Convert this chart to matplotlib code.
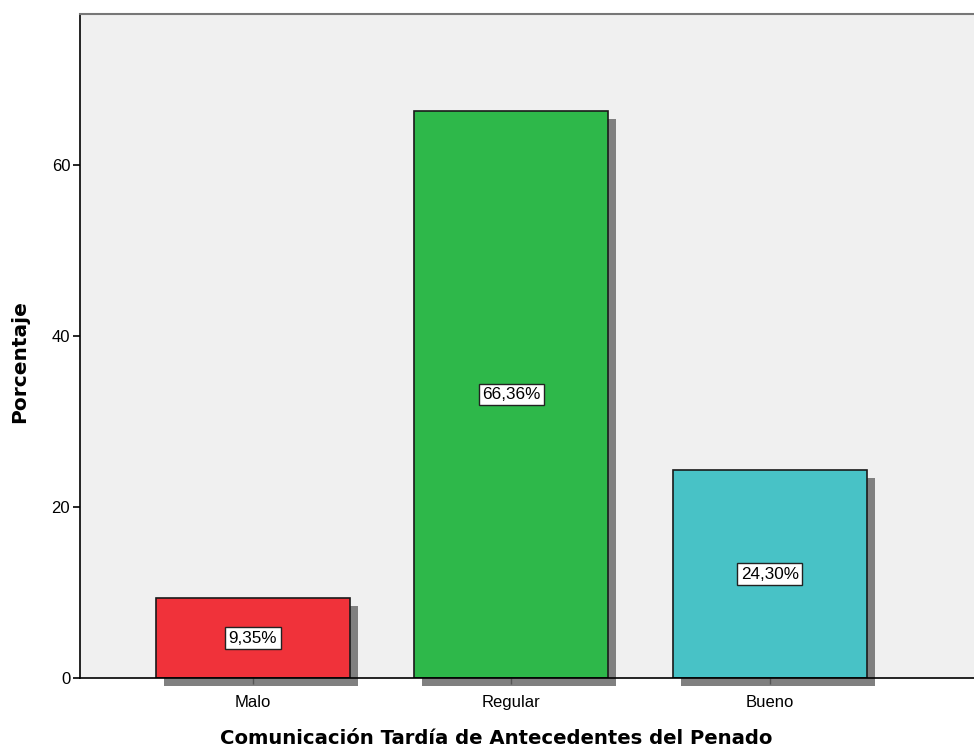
import matplotlib.pyplot as plt
import matplotlib.transforms as mtransforms
from matplotlib.patches import Rectangle

# datos
categorias = ['Malo', 'Regular', 'Bueno']
porcentajes = [9.35, 66.36, 24.30]
etiquetas = ['9,35%', '66,36%', '24,30%']
colores = ['#f0323a', '#2eb84a', '#48c2c6']

plt.rcParams['font.family'] = ['Liberation Sans', 'DejaVu Sans']

fig = plt.figure(figsize=(9.74, 7.49), dpi=100)
ax = fig.add_axes([0.0821, 0.0948, 0.9179, 0.8865])
ax.set_facecolor('#f0f0f0')

x = list(range(len(categorias)))
ancho = 0.75

# sombra de las barras (desplazada 8 px a la derecha y abajo)
sombra = mtransforms.offset_copy(ax.transData, fig=fig, x=8, y=-8, units='dots')
for xi, v in zip(x, porcentajes):
    r = Rectangle((xi - ancho / 2, 0), ancho, v, facecolor='#808080',
                  edgecolor='none', transform=sombra, clip_on=False, zorder=1)
    ax.add_patch(r)

ax.bar(x, porcentajes, width=ancho, color=colores, edgecolor='#1a1a1a',
       linewidth=1.2, zorder=2)

for xi, v, t in zip(x, porcentajes, etiquetas):
    ax.text(xi, v / 2, t, ha='center', va='center', fontsize=12.3, zorder=4,
            bbox=dict(boxstyle='square,pad=0.2', facecolor='white',
                      edgecolor='#222222', linewidth=1))

ax.set_xlim(-0.669, 2.79)
ax.set_ylim(0, 77.7)
ax.set_yticks([0, 20, 40, 60])
ax.set_xticks(x)
ax.set_xticklabels(categorias)
ax.tick_params(axis='y', length=5, width=1.2, labelsize=12, pad=2)
ax.tick_params(axis='x', length=4, width=1, color='#555555', labelsize=12, pad=8)

ax.spines['right'].set_visible(False)
ax.spines['top'].set_color('#777777')
ax.spines['top'].set_linewidth(1.5)
ax.spines['left'].set_linewidth(1.2)
ax.spines['bottom'].set_linewidth(1.2)
ax.spines['bottom'].set_zorder(3)

ax.set_ylabel('Porcentaje', fontsize=14.5, fontweight='bold',
              family='DejaVu Sans')
ax.set_xlabel('Comunicación Tardía de Antecedentes del Penado', fontsize=14.1,
              fontweight='bold', family='DejaVu Sans')
ax.yaxis.set_label_coords(-0.057, 0.476)
ax.xaxis.set_label_coords(0.466, -0.077)

fig.savefig('out.png', dpi=100)
